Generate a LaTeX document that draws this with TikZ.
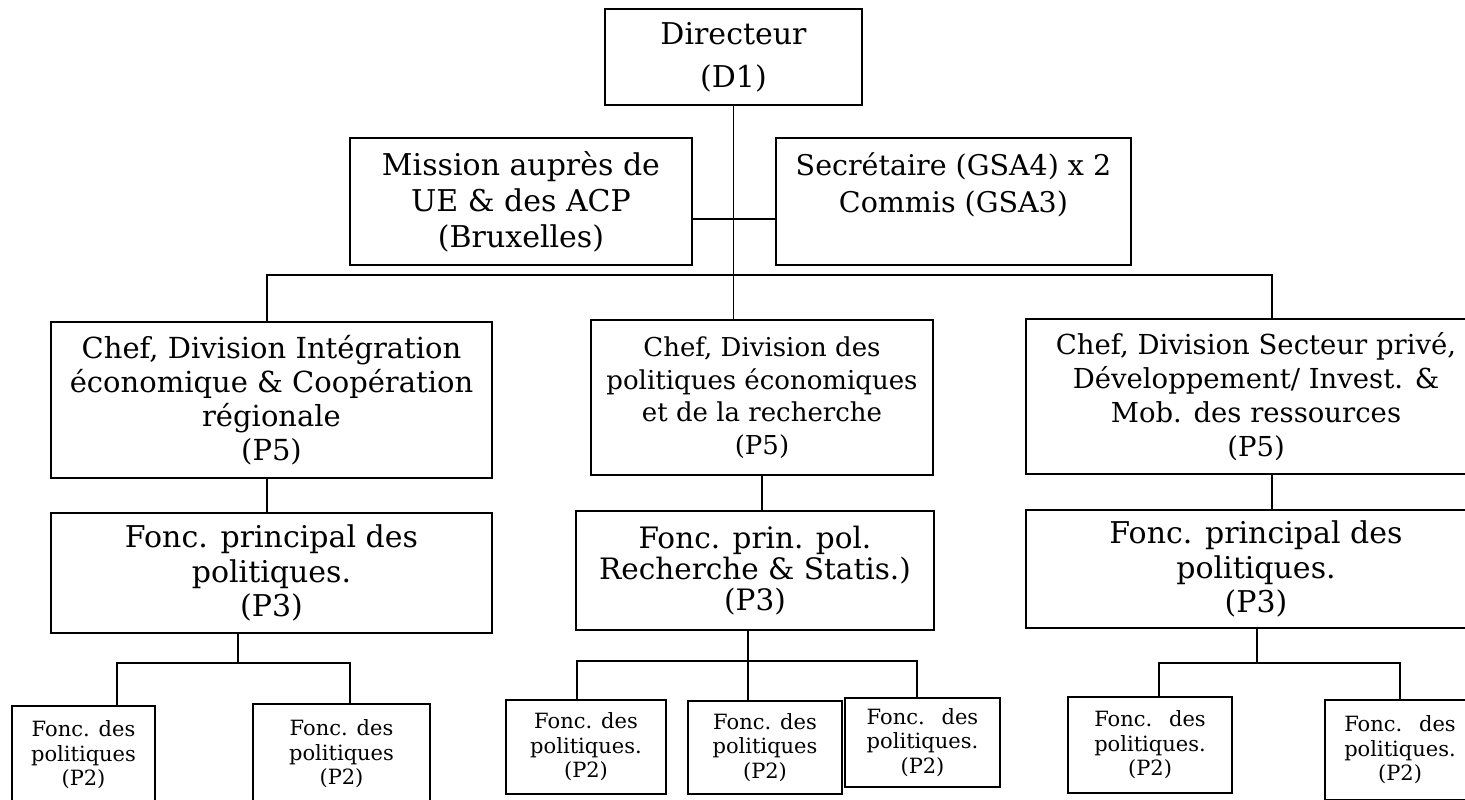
\documentclass[tikz,border=0pt]{standalone}
\usepackage{fontspec}
\setmainfont{DejaVu Serif}
\newlength\stw
\newcommand\fdes[1]{\settowidth\stw{#1}\makebox[\stw][s]{Fonc.\hfill des}}
\begin{document}
\begin{tikzpicture}[x=1pt,y=-1pt,
  box/.style={draw, line width=1.3pt, align=center, inner sep=0pt, font=\fontsize{29}{34}\selectfont},
  small/.style={draw, line width=1.3pt, align=center, inner sep=0pt, font=\fontsize{21}{24.5}\selectfont},
  link/.style={line width=1.7pt}]
\useasboundingbox (0,0) rectangle (1465,800);
% top level
\node[box, minimum width=257pt, minimum height=96pt, font=\fontsize{30}{43}\selectfont] (dir) at (733.5,57) {Directeur\\(D1)};
\node[box, minimum width=342pt, minimum height=127pt, font=\fontsize{30}{36}\selectfont] (mis) at (521,201.5) {Mission auprès de\\UE \& des ACP\\(Bruxelles)};
\node[box, minimum width=355pt, minimum height=127pt, font=\fontsize{28.5}{37}\selectfont] (sec) at (953.5,201.5) {Secrétaire (GSA4) x 2\\Commis (GSA3)\\\mbox{}};
% chefs
\node[box, minimum width=441pt, minimum height=156pt] (chL) at (271.5,400) {Chef, Division Intégration\\économique \& Coopération\\régionale\\(P5)};
\node[box, minimum width=342pt, minimum height=155pt, font=\fontsize{26}{32.5}\selectfont] (chM) at (762,397.5) {Chef, Division des\\politiques économiques\\et de la recherche\\(P5)};
\node[box, minimum width=460pt, minimum height=155pt, font=\fontsize{27.5}{34}\selectfont] (chR) at (1256,396.5) {Chef, Division Secteur privé,\\Développement/ Invest. \&\\Mob. des ressources\\(P5)};
% fonc principal
\node[box, minimum width=441pt, minimum height=120pt, font=\fontsize{30}{34.5}\selectfont] (fL) at (271.5,573) {Fonc. principal des\\politiques.\\(P3)};
\node[box, minimum width=358pt, minimum height=119pt, font=\fontsize{29.5}{31}\selectfont] (fM) at (755,570.5) {Fonc. prin. pol.\\Recherche \& Statis.)\\(P3)};
\node[box, minimum width=460pt, minimum height=118pt, font=\fontsize{30}{34.5}\selectfont] (fR) at (1256,569) {Fonc. principal des\\politiques.\\(P3)};
% bottom boxes
\node[small, minimum width=143pt, minimum height=98pt] (bL1) at (83.5,755) {Fonc. des\\politiques\\(P2)};
\node[small, minimum width=177pt, minimum height=100pt] (bL2) at (341.5,754) {Fonc. des\\politiques\\(P2)};
\node[small, minimum width=160pt, minimum height=94pt] (bM1) at (586,747) {Fonc. des\\politiques.\\(P2)};
\node[small, minimum width=154pt, minimum height=93pt] (bM2) at (765,747.5) {Fonc. des\\politiques\\(P2)};
\node[small, minimum width=155pt, minimum height=89pt] (bM3) at (922.5,742.5) {\fdes{politiques.}\\politiques.\\(P2)};
\node[small, minimum width=164pt, minimum height=96pt] (bR1) at (1150,745) {\fdes{politiques.}\\politiques.\\(P2)};
\node[small, minimum width=150pt, minimum height=100pt] (bR2) at (1400,750) {\fdes{politiques.}\\politiques.\\(P2)};
% connectors
\coordinate (bus) at (732,275);
\draw[link] (dir.south) -- (dir.south |- chM.north);
\draw[link] ([yshift=-17.5pt]mis.east) -- ([yshift=-17.5pt]sec.west);
\draw[link] ([xshift=-4.5pt]chL.north) |- (bus) -| ([xshift=16pt]chR.north);
\draw[link] ([xshift=-4.5pt]chL.south) -- ([xshift=-4.5pt]fL.north);
\draw[link] (chM.south) -- (chM.south |- fM.north);
\draw[link] ([xshift=16pt]chR.south) -- ([xshift=16pt]fR.north);
% left group
\coordinate (lb) at (238,663);
\draw[link] ([xshift=-33.5pt]fL.south) -- (lb);
\draw[link] ([xshift=33.5pt]bL1.north) |- (lb) -| ([xshift=8.5pt]bL2.north);
% middle group
\coordinate (mb) at (748,661);
\draw[link] ([xshift=-7pt]fM.south) -- ([xshift=-17pt]bM2.north);
\draw[link] ([xshift=-9pt]bM1.north) |- (mb) -| ([xshift=-5.5pt]bM3.north);
% right group
\coordinate (rb) at (1257,663);
\draw[link] ([xshift=1pt]fR.south) -- (rb);
\draw[link] ([xshift=9pt]bR1.north) |- (rb) -| (bR2.north);
\end{tikzpicture}
\end{document}
